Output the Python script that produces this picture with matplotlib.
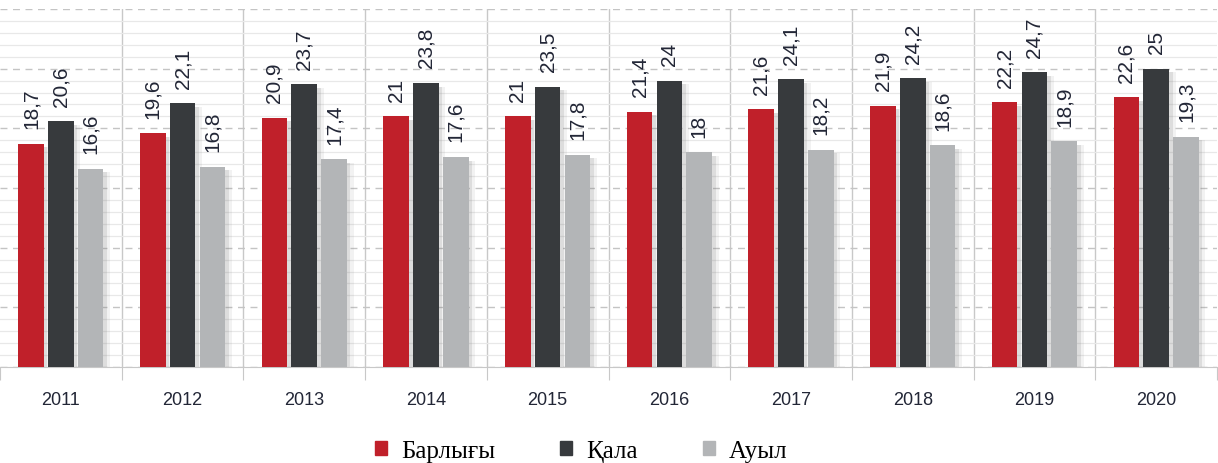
import numpy as np
import matplotlib.pyplot as plt
from matplotlib.patches import Patch
from matplotlib.ticker import MultipleLocator

# ============================================================
# DATA
# ============================================================
years = ["2011", "2012", "2013", "2014", "2015",
         "2016", "2017", "2018", "2019", "2020"]
barlygy = [18.7, 19.6, 20.9, 21, 21, 21.4, 21.6, 21.9, 22.2, 22.6]
qala = [20.6, 22.1, 23.7, 23.8, 23.5, 24, 24.1, 24.2, 24.7, 25]
auyl = [16.6, 16.8, 17.4, 17.6, 17.8, 18, 18.2, 18.6, 18.9, 19.3]
series_names = ["Барлығы", "Қала", "Ауыл"]

colors = ["#c0202a", "#373a3d", "#b3b5b7"]
text_color = "#222636"

# ============================================================
# FIGURE
# ============================================================
fig = plt.figure(figsize=(12.18, 4.64), dpi=100)
ax = fig.add_axes([0.0, 1 - 368 / 464, 1217 / 1218, (368 - 10) / 464])

x = np.arange(len(years))
width = 0.21
offsets = [-0.245, 0.0, 0.245]
data = [barlygy, qala, auyl]

# shadows
for off, vals in zip(offsets, data):
    for k, a in [(0.03, 0.18), (0.055, 0.10)]:
        ax.bar(x + off + k, np.array(vals) - 0.3, width, color="#808080",
               alpha=a, zorder=2, linewidth=0)

for off, vals, col in zip(offsets, data, colors):
    ax.bar(x + off, vals, width, color=col, zorder=3, linewidth=0)
    for xi, v in zip(x + off, vals):
        lbl = f"{v:g}".replace(".", ",")
        ax.text(xi, v + 1.3, lbl, rotation=90, ha="center", va="bottom",
                fontsize=15, color=text_color, family="Liberation Sans",
                zorder=4)

ax.set_xlim(-0.5, len(years) - 0.5)
ax.set_ylim(0, 30)

# grid
ax.yaxis.set_minor_locator(MultipleLocator(1))
ax.yaxis.set_major_locator(MultipleLocator(5))
ax.grid(which="minor", axis="y", color="#e8e8e8", linewidth=0.9, zorder=0)
ax.grid(which="major", axis="y", color="#c4c4c4", linewidth=1.0,
        linestyle=(0, (5, 4)), zorder=1)
for b in np.arange(0.5, len(years) - 0.5, 1):
    ax.axvline(b, color="#c8c8c8", linewidth=1.0, zorder=1)

ax.set_yticklabels([])
ax.tick_params(axis="y", which="both", length=0)

ax.set_xticks(np.arange(-0.5, len(years) - 0.4, 1))
ax.set_xticklabels([])
ax.set_xticks(x, minor=True)
ax.set_xticklabels(years, minor=True, fontsize=13, color=text_color,
                   family="Liberation Sans")
ax.tick_params(axis="x", which="major", length=9, color="#c8c8c8")
ax.tick_params(axis="x", which="minor", length=0, pad=17)

for s in ["top", "left", "right"]:
    ax.spines[s].set_visible(False)
ax.spines["bottom"].set_color("#c8c8c8")

handles = [Patch(color=c) for c in colors]
fig.legend(handles, series_names, loc="center", ncol=3,
           bbox_to_anchor=(581 / 1218, 1 - 452 / 464), frameon=False,
           handlelength=0.5, handleheight=0.5, handletextpad=0.55,
           columnspacing=2.6,
           prop={"family": "Liberation Serif", "size": 18})

fig.savefig("out.png", dpi=100)
